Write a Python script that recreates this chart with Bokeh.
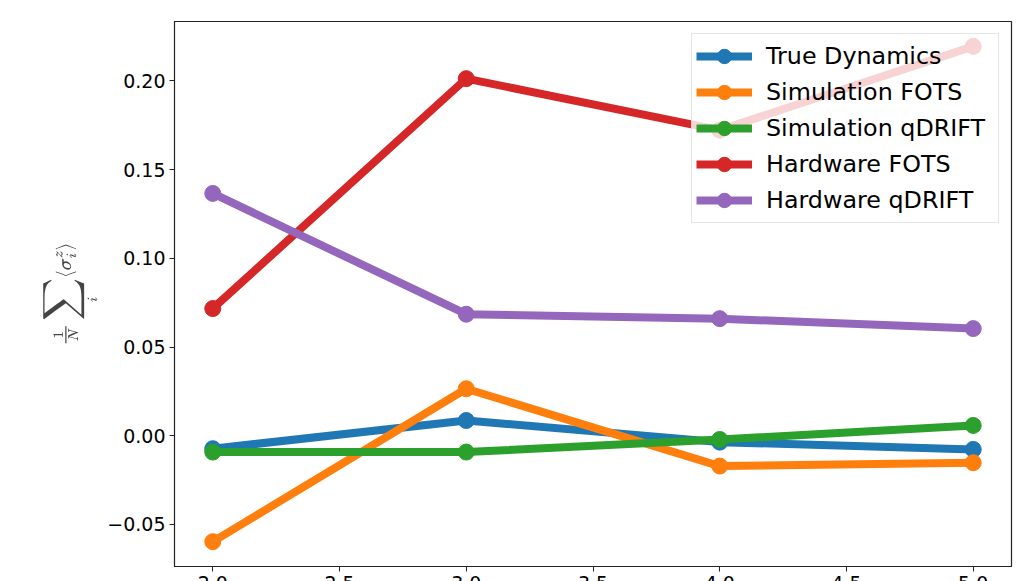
from bokeh.plotting import figure
from bokeh.models import FixedTicker, CustomJSTickFormatter, Range1d, Legend, LegendItem
from bokeh.embed import file_html
from bokeh.resources import INLINE

x_vals = [2.0, 3.0, 4.0, 5.0]
true_dynamics = [-0.0073, 0.0086, -0.0036, -0.0077]
simulation_fots = [-0.0597, 0.0265, -0.0171, -0.0152]
simulation_qdrift = [-0.0092, -0.0092, -0.0021, 0.0058]
hardware_fots = [0.0717, 0.2013, 0.1723, 0.2195]
hardware_qdrift = [0.1366, 0.0685, 0.0660, 0.0604]

series_names = ["True Dynamics", "Simulation FOTS", "Simulation qDRIFT", "Hardware FOTS", "Hardware qDRIFT"]
series_values = [true_dynamics, simulation_fots, simulation_qdrift, hardware_fots, hardware_qdrift]
colors = ["#1f77b4", "#ff7f0e", "#2ca02c", "#d62728", "#9467bd"]

x_ticks = [2.0, 2.5, 3.0, 3.5, 4.0, 4.5, 5.0]
y_ticks = [-0.05, 0.0, 0.05, 0.10, 0.15, 0.20]

font = "DejaVu Sans"

p = figure(frame_width=837, frame_height=545,
           output_backend="svg", toolbar_location=None,
           x_range=Range1d(1.849, 5.151), y_range=Range1d(-0.0737, 0.2335),
           min_border_left=174, min_border_top=21, min_border_right=6)
p.background_fill_color = "white"
p.border_fill_color = "white"
p.outline_line_color = "#222222"
p.outline_line_width = 1.2
p.grid.visible = False

items = []
for name, vals, c in zip(series_names, series_values, colors):
    r1 = p.line(x_vals, vals, line_color=c, line_width=8)
    r2 = p.scatter(x_vals, vals, marker="circle", size=16, fill_color=c, line_color=c)
    items.append(LegendItem(label=name, renderers=[r1, r2]))

legend = Legend(items=items, location="top_right", margin=12, padding=4, spacing=0,
                label_text_font=font, label_text_font_size="23.8px", label_text_color="black",
                label_height=36, glyph_height=36, glyph_width=56, label_standoff=14,
                label_width=228,
                border_line_color="#cccccc", border_line_width=1,
                background_fill_color="white", background_fill_alpha=0.8)
p.add_layout(legend, "center")

for ax in (p.xaxis[0], p.yaxis[0]):
    ax.axis_line_color = "#222222"
    ax.major_tick_line_color = "#222222"
    ax.major_tick_out = 5
    ax.major_tick_in = 0
    ax.minor_tick_line_color = None
    ax.major_label_text_font = font
    ax.major_label_text_font_size = "19px"
    ax.major_label_text_color = "black"
    ax.major_label_standoff = 4

p.xaxis[0].ticker = FixedTicker(ticks=x_ticks)
p.xaxis[0].formatter = CustomJSTickFormatter(code="return tick.toFixed(1);")
p.yaxis[0].ticker = FixedTicker(ticks=y_ticks)
p.yaxis[0].formatter = CustomJSTickFormatter(
    code="var s = Math.abs(tick).toFixed(2); return (tick < -1e-9 ? '\u2212' : '') + s;")
p.yaxis[0].axis_label = r"$$\tfrac{1}{N}\mathop{\Large\sum}\limits_i \langle \sigma_i^z \rangle$$"
p.yaxis[0].axis_label_text_font_size = "17px"
p.yaxis[0].axis_label_standoff = 5

open("out.html", "w").write(file_html(p, INLINE))
